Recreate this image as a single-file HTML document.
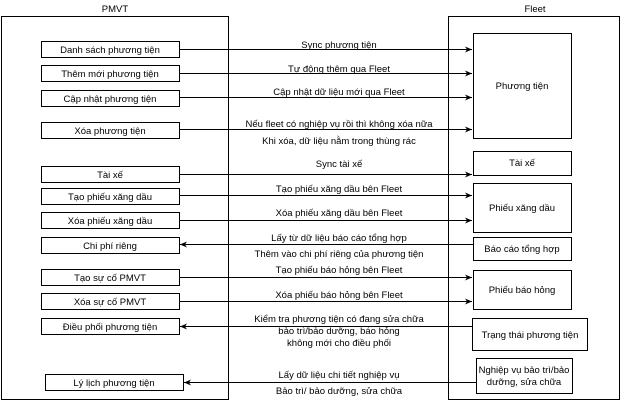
<!DOCTYPE html>
<html><head><meta charset="utf-8"><style>
html,body{margin:0;padding:0;background:#fff;}
svg{display:block;font-family:"Liberation Sans",Arial,sans-serif;}
text{font-size:9.5px;fill:#000;}
</style></head><body>
<svg width="621" height="400" viewBox="0 0 621 400" xmlns="http://www.w3.org/2000/svg">
<defs>
<marker id="a" markerWidth="8" markerHeight="8" refX="7" refY="4" orient="auto" markerUnits="userSpaceOnUse">
<path d="M0,1 L7,4 L0,7 L2,4 Z" fill="#000"/></marker>
</defs>
<g fill="none" stroke="#000" stroke-width="1">
<rect x="1.5" y="16.5" width="227" height="383"/>
<rect x="448.5" y="16.5" width="171" height="383"/>
<rect x="41.5" y="41.5" width="138" height="16"/>
<rect x="41.5" y="65.5" width="138" height="16"/>
<rect x="41.5" y="90.5" width="138" height="16"/>
<rect x="41.5" y="122.5" width="138" height="16"/>
<rect x="41.5" y="166.5" width="138" height="16"/>
<rect x="41.5" y="188.5" width="138" height="16"/>
<rect x="41.5" y="212.5" width="138" height="16"/>
<rect x="41.5" y="237.5" width="138" height="16"/>
<rect x="41.5" y="269.5" width="138" height="16"/>
<rect x="41.5" y="293.5" width="138" height="16"/>
<rect x="41.5" y="318.5" width="138" height="16"/>
<rect x="45.5" y="374.5" width="138" height="16"/>
<rect x="473.5" y="33.5" width="98" height="105"/>
<rect x="473.5" y="151.5" width="98" height="24"/>
<rect x="473.5" y="183.5" width="98" height="49"/>
<rect x="473.5" y="237.5" width="98" height="23"/>
<rect x="473.5" y="270.5" width="98" height="39"/>
<rect x="472.5" y="318.5" width="115" height="32"/>
<rect x="476.5" y="358.5" width="96" height="35"/>
<g marker-end="url(#a)">
<line x1="179.5" y1="49.5" x2="472" y2="49.5"/>
<line x1="179.5" y1="73.5" x2="472" y2="73.5"/>
<line x1="179.5" y1="97.5" x2="472" y2="97.5"/>
<line x1="179.5" y1="129.5" x2="472" y2="129.5"/>
<line x1="179.5" y1="174.5" x2="472" y2="174.5"/>
<line x1="179.5" y1="195.5" x2="472" y2="195.5"/>
<line x1="179.5" y1="220.5" x2="472" y2="220.5"/>
<line x1="473" y1="244.5" x2="180" y2="244.5"/>
<line x1="179.5" y1="277.5" x2="472" y2="277.5"/>
<line x1="179.5" y1="301.5" x2="472" y2="301.5"/>
<line x1="472" y1="326.5" x2="180" y2="326.5"/>
<line x1="476" y1="382.5" x2="184" y2="382.5"/>
</g>
</g>
<g text-anchor="middle">
<text x="115" y="12">PMVT</text>
<text x="535" y="12">Fleet</text>
<text x="110" y="53">Danh sách phương tiện</text>
<text x="110" y="77">Thêm mới phương tiện</text>
<text x="110" y="102">Cập nhật phương tiện</text>
<text x="110" y="134">Xóa phương tiện</text>
<text x="110" y="178">Tài xế</text>
<text x="110" y="200">Tạo phiếu xăng dầu</text>
<text x="110" y="224">Xóa phiếu xăng dầu</text>
<text x="110" y="249">Chi phí riêng</text>
<text x="110" y="281">Tạo sự cố PMVT</text>
<text x="110" y="305">Xóa sự cố PMVT</text>
<text x="110" y="330">Điều phối phương tiện</text>
<text x="114" y="386">Lý lịch phương tiện</text>
<text x="522" y="89">Phương tiện</text>
<text x="522" y="166">Tài xế</text>
<text x="522" y="211">Phiếu xăng dầu</text>
<text x="522" y="252">Báo cáo tổng hợp</text>
<text x="522" y="293">Phiếu báo hỏng</text>
<text x="530" y="338">Trạng thái phương tiện</text>
<text x="524" y="373">Nghiệp vụ bảo trì/bảo</text>
<text x="524" y="385">dưỡng, sửa chữa</text>
<text x="339" y="48">Sync phương tiện</text>
<text x="339" y="72">Tự động thêm qua Fleet</text>
<text x="339" y="95">Cập nhật dữ liệu mới qua Fleet</text>
<text x="339" y="127">Nếu fleet có nghiệp vụ rồi thì không xóa nữa</text>
<text x="339" y="144">Khi xóa, dữ liệu nằm trong thùng rác</text>
<text x="339" y="167">Sync tài xế</text>
<text x="339" y="192">Tạo phiếu xăng dầu bên Fleet</text>
<text x="339" y="216">Xóa phiếu xăng dầu bên Fleet</text>
<text x="339" y="241">Lấy từ dữ liệu báo cáo tổng hợp</text>
<text x="339" y="257">Thêm vào chi phí riêng của phương tiện</text>
<text x="339" y="273">Tạo phiếu báo hỏng bên Fleet</text>
<text x="339" y="298">Xóa phiếu báo hỏng bên Fleet</text>
<text x="339" y="322">Kiểm tra phương tiện có đang sửa chữa</text>
<text x="339" y="334">bảo trì/bảo dưỡng, báo hỏng</text>
<text x="339" y="346">không mới cho điều phối</text>
<text x="339" y="378">Lấy dữ liệu chi tiết nghiệp vụ</text>
<text x="339" y="394">Bảo trì/ bảo dưỡng, sửa chữa</text>
</g>
</svg>
</body></html>
